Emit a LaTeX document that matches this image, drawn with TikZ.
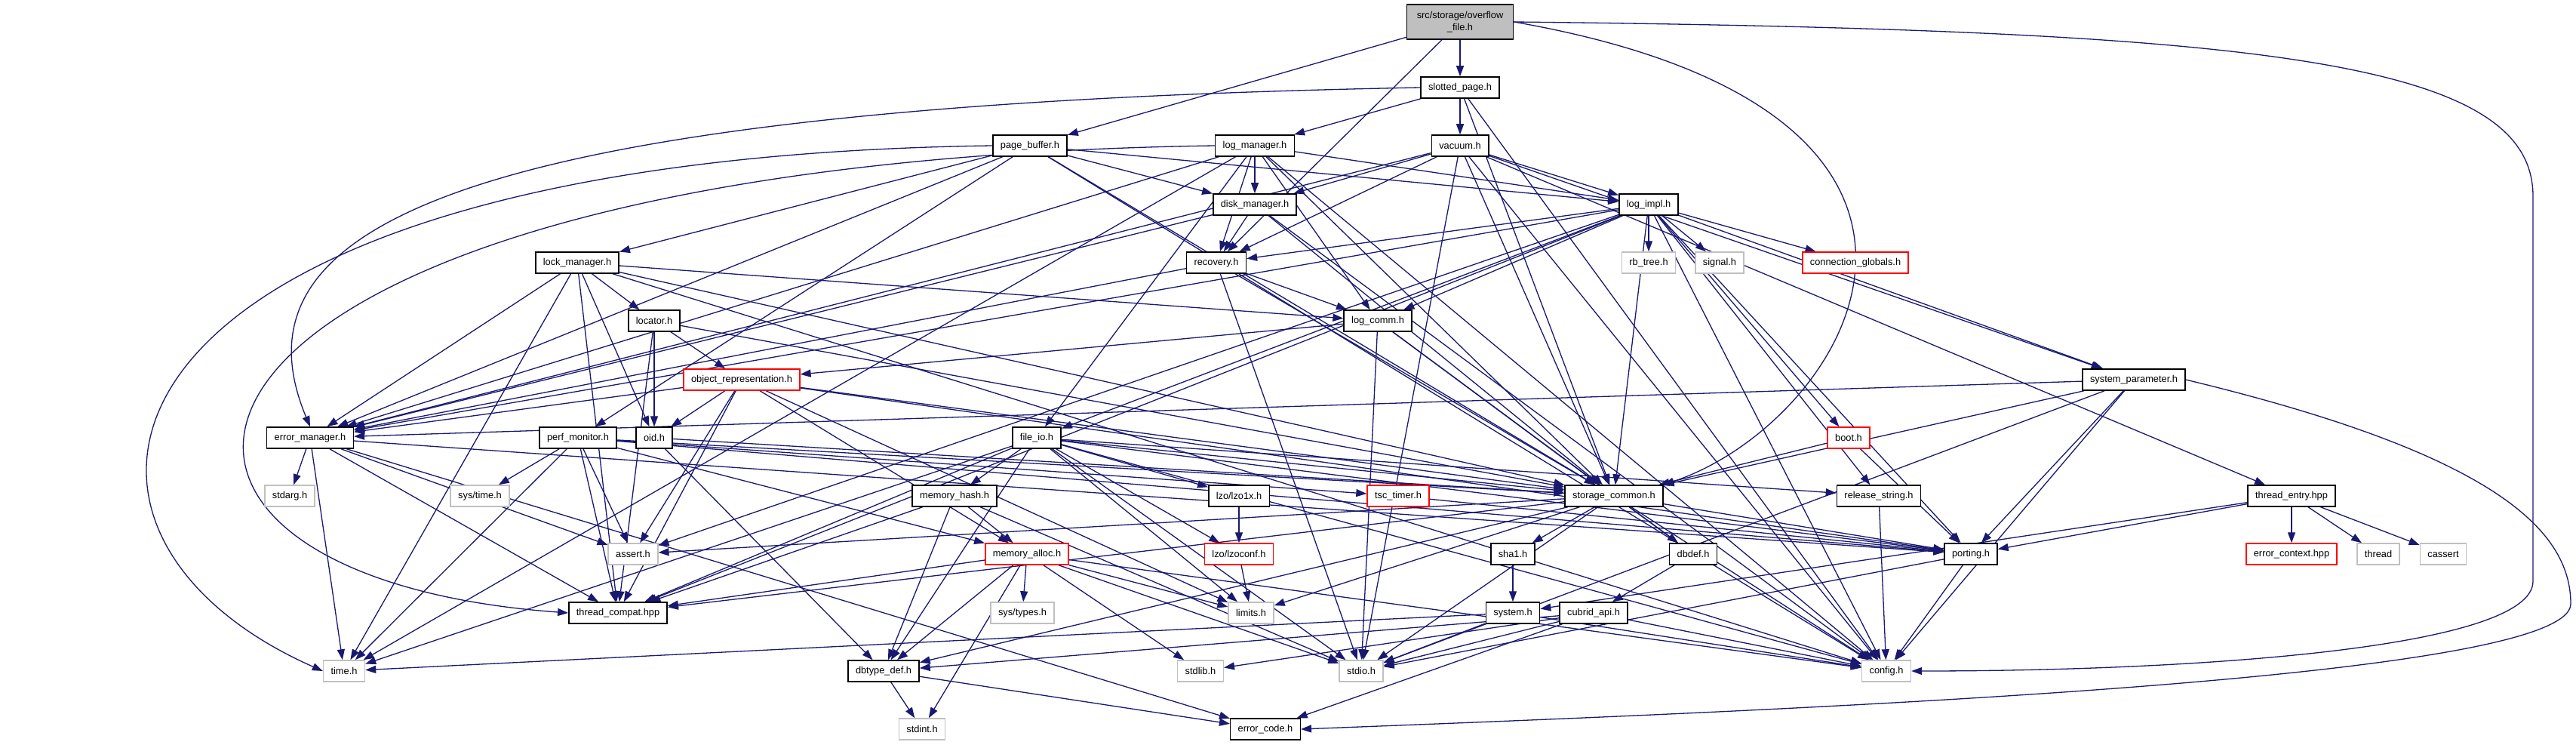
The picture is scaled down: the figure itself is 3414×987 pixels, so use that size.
\documentclass[tikz,border=0pt]{standalone}
\usepackage{fontspec}
\setmainfont{Liberation Sans}
\usetikzlibrary{arrows.meta,backgrounds}
\definecolor{edgeblue}{HTML}{191970}
\definecolor{extgrey}{HTML}{C0C0C0}
\definecolor{rootgrey}{HTML}{BFBFBF}

\begin{document}
\begin{tikzpicture}[x=1pt,y=-1pt,
  hdr/.style={draw=black,line width=1.5pt,fill=white,minimum height=28pt,
    inner xsep=10pt,inner ysep=0pt,font=\fontsize{12.8}{16.5}\selectfont},
  syshdr/.style={hdr,draw=extgrey},
  trunc/.style={hdr,draw=red},
  dep/.style={edgeblue,line width=1.3pt,-{Triangle[length=14pt,width=10pt]}}]
  \useasboundingbox (0,0) rectangle (3414,987);

  % 根节点
  \node[hdr,fill=rootgrey,align=center,minimum width=141pt,minimum height=46pt] (root) at (1935,29) {src/storage/overflow\\\_file.h};

  % 头文件节点
  \node[hdr] (slotted) at (1935,116) {slotted\_page.h};
  \node[hdr] (vacuum) at (1935,193) {vacuum.h};
  \node[hdr] (pagebuf) at (1365,193) {page\_buffer.h};
  \node[hdr] (logmgr) at (1663,193) {log\_manager.h};
  \node[hdr] (diskmgr) at (1663,271) {disk\_manager.h};
  \node[hdr] (logimpl) at (2185,271) {log\_impl.h};
  \node[hdr] (lockmgr) at (765,348) {lock\_manager.h};
  \node[hdr] (recovery) at (1612,348) {recovery.h};
  \node[syshdr] (rbtree) at (2185,348) {rb\_tree.h};
  \node[syshdr] (signal) at (2279,348) {signal.h};
  \node[trunc] (connglob) at (2459,348) {connection\_globals.h};
  \node[hdr] (locator) at (867,425) {locator.h};
  \node[hdr] (logcomm) at (1826,425) {log\_comm.h};
  \node[trunc] (objrep) at (983,503) {object\_representation.h};
  \node[hdr] (syspar) at (2828,503) {system\_parameter.h};
  \node[hdr] (errmgr) at (411,580) {error\_manager.h};
  \node[hdr] (perfmon) at (766,580) {perf\_monitor.h};
  \node[hdr] (oid) at (867,580) {oid.h};
  \node[hdr] (fileio) at (1374,580) {file\_io.h};
  \node[trunc] (boot) at (2450,580) {boot.h};
  \node[syshdr] (stdarg) at (384,657) {stdarg.h};
  \node[syshdr] (systime) at (636,657) {sys/time.h};
  \node[hdr] (memhash) at (1265,657) {memory\_hash.h};
  \node[hdr] (lzoonex) at (1642,657) {lzo/lzo1x.h};
  \node[trunc] (tsctimer) at (1853,657) {tsc\_timer.h};
  \node[hdr] (storcommon) at (2139,657) {storage\_common.h};
  \node[hdr] (relstring) at (2490,657) {release\_string.h};
  \node[hdr] (threadentry) at (3037,657) {thread\_entry.hpp};
  \node[syshdr] (assert) at (839,734) {assert.h};
  \node[trunc] (memalloc) at (1361,734) {memory\_alloc.h};
  \node[trunc] (lzoconf) at (1642,734) {lzo/lzoconf.h};
  \node[hdr] (shaone) at (2005,734) {sha1.h};
  \node[hdr] (dbdef) at (2244,734) {dbdef.h};
  \node[hdr] (porting) at (2612,734) {porting.h};
  \node[trunc] (errctx) at (3037,734) {error\_context.hpp};
  \node[syshdr] (thread) at (3152,734) {thread};
  \node[syshdr] (cassert) at (3238,734) {cassert};
  \node[hdr] (threadcompat) at (819,812) {thread\_compat.hpp};
  \node[syshdr] (systypes) at (1355,812) {sys/types.h};
  \node[syshdr] (limits) at (1658,812) {limits.h};
  \node[hdr] (system) at (2005,812) {system.h};
  \node[hdr] (cubridapi) at (2112,812) {cubrid\_api.h};
  \node[syshdr] (time) at (456,889) {time.h};
  \node[hdr] (dbtypedef) at (1171,889) {dbtype\_def.h};
  \node[syshdr] (stdlib) at (1591,889) {stdlib.h};
  \node[syshdr] (stdio) at (1804,889) {stdio.h};
  \node[syshdr] (config) at (2500,889) {config.h};
  \node[syshdr] (stdint) at (1222,966) {stdint.h};
  \node[hdr] (errcode) at (1677,966) {error\_code.h};

  \begin{pgfonlayer}{background}
  \fill[white] (0,0) rectangle (3414,987);

  % 依赖边
  \foreach \t in {slotted,pagebuf,recovery} \draw[dep] (root) -- (\t);
  \draw[dep] (root.east) .. controls (2700,150) and (2450,560) .. (storcommon.north east);
  \draw[dep] (root.east) .. controls (3000,40) and (3357,80) .. (3357,260)
    -- (3357,770) .. controls (3357,860) and (2900,889) .. (config.east);

  \foreach \t in {logmgr,vacuum,storcommon,config} \draw[dep] (slotted) -- (\t);
  \draw[dep] (slotted.west) .. controls (600,140) and (300,300) .. (errmgr.north);

  \foreach \t in {diskmgr,lockmgr,logimpl,errmgr,storcommon,perfmon,config} \draw[dep] (pagebuf) -- (\t);
  \draw[dep] (pagebuf.west) .. controls (100,210) and (0,700) .. (time.west);

  \foreach \t in {diskmgr,recovery,logcomm,logimpl,fileio,errmgr,storcommon,time,config} \draw[dep] (logmgr) -- (\t);
  \draw[dep] (logmgr.west) .. controls (150,215) and (40,760) .. (threadcompat.west);

  \foreach \t in {diskmgr,recovery,logimpl,storcommon,syspar,threadentry,errmgr,config,stdio} \draw[dep] (vacuum) -- (\t);
  \foreach \t in {recovery,storcommon,errmgr,config} \draw[dep] (diskmgr) -- (\t);
  \foreach \t in {rbtree,signal,connglob,logcomm,recovery,storcommon,boot,relstring,porting,config,errmgr,threadcompat,fileio,syspar,assert} \draw[dep] (logimpl) -- (\t);
  \foreach \t in {logcomm,storcommon,errmgr,stdio} \draw[dep] (recovery) -- (\t);
  \foreach \t in {objrep,storcommon,dbdef,stdio} \draw[dep] (logcomm) -- (\t);
  \foreach \t in {locator,oid,errmgr,storcommon,logcomm,threadcompat,time,config} \draw[dep] (lockmgr) -- (\t);
  \foreach \t in {objrep,oid,storcommon,threadcompat} \draw[dep] (locator) -- (\t);
  \foreach \t in {errmgr,oid,storcommon,memalloc,assert,threadcompat,porting,limits} \draw[dep] (objrep) -- (\t);
  \foreach \t in {storcommon,dbtypedef} \draw[dep] (oid) -- (\t);
  \foreach \t in {stdarg,threadcompat,time,assert,porting,errcode} \draw[dep] (errmgr) -- (\t);
  \foreach \t in {systime,threadcompat,assert,time,memalloc,storcommon,tsctimer,porting} \draw[dep] (perfmon) -- (\t);
  \foreach \t in {memhash,lzoonex,lzoconf,storcommon,relstring,porting,dbtypedef,stdio,threadcompat,time,limits,config} \draw[dep] (fileio) -- (\t);
  \foreach \t in {memalloc,threadcompat,dbtypedef,stdio} \draw[dep] (memhash) -- (\t);
  \foreach \t in {threadcompat,dbtypedef,systypes,stdlib,stdint,limits,stdio,config} \draw[dep] (memalloc) -- (\t);
  \draw[dep] (lzoonex) -- (lzoconf);
  \draw[dep] (lzoconf) -- (limits);
  \draw[dep] (tsctimer) -- (porting);
  \foreach \t in {shaone,dbdef,stdio,config,porting,limits,dbtypedef,assert,threadcompat} \draw[dep] (storcommon) -- (\t);
  \draw[dep] (shaone) -- (system);
  \draw[dep] (dbdef) -- (cubridapi);
  \foreach \t in {stdio,time,config} \draw[dep] (system) -- (\t);
  \foreach \t in {errcode,config,dbtypedef,stdlib,stdio} \draw[dep] (cubridapi) -- (\t);
  \foreach \t in {stdint,errcode} \draw[dep] (dbtypedef) -- (\t);
  \draw[dep] (relstring) -- (config);
  \foreach \t in {storcommon,porting} \draw[dep] (boot) -- (\t);
  \foreach \t in {config,stdio} \draw[dep] (porting) -- (\t);
  \foreach \t in {errmgr,storcommon,porting,config,stdio} \draw[dep] (syspar) -- (\t);
  \draw[dep] (syspar.east) .. controls (3300,600) and (3407,700) .. (3407,800)
    .. controls (3407,900) and (2400,940) .. (errcode.east);
  \foreach \t in {errctx,thread,cassert,porting,system} \draw[dep] (threadentry) -- (\t);
  \end{pgfonlayer}
\end{tikzpicture}
\end{document}
